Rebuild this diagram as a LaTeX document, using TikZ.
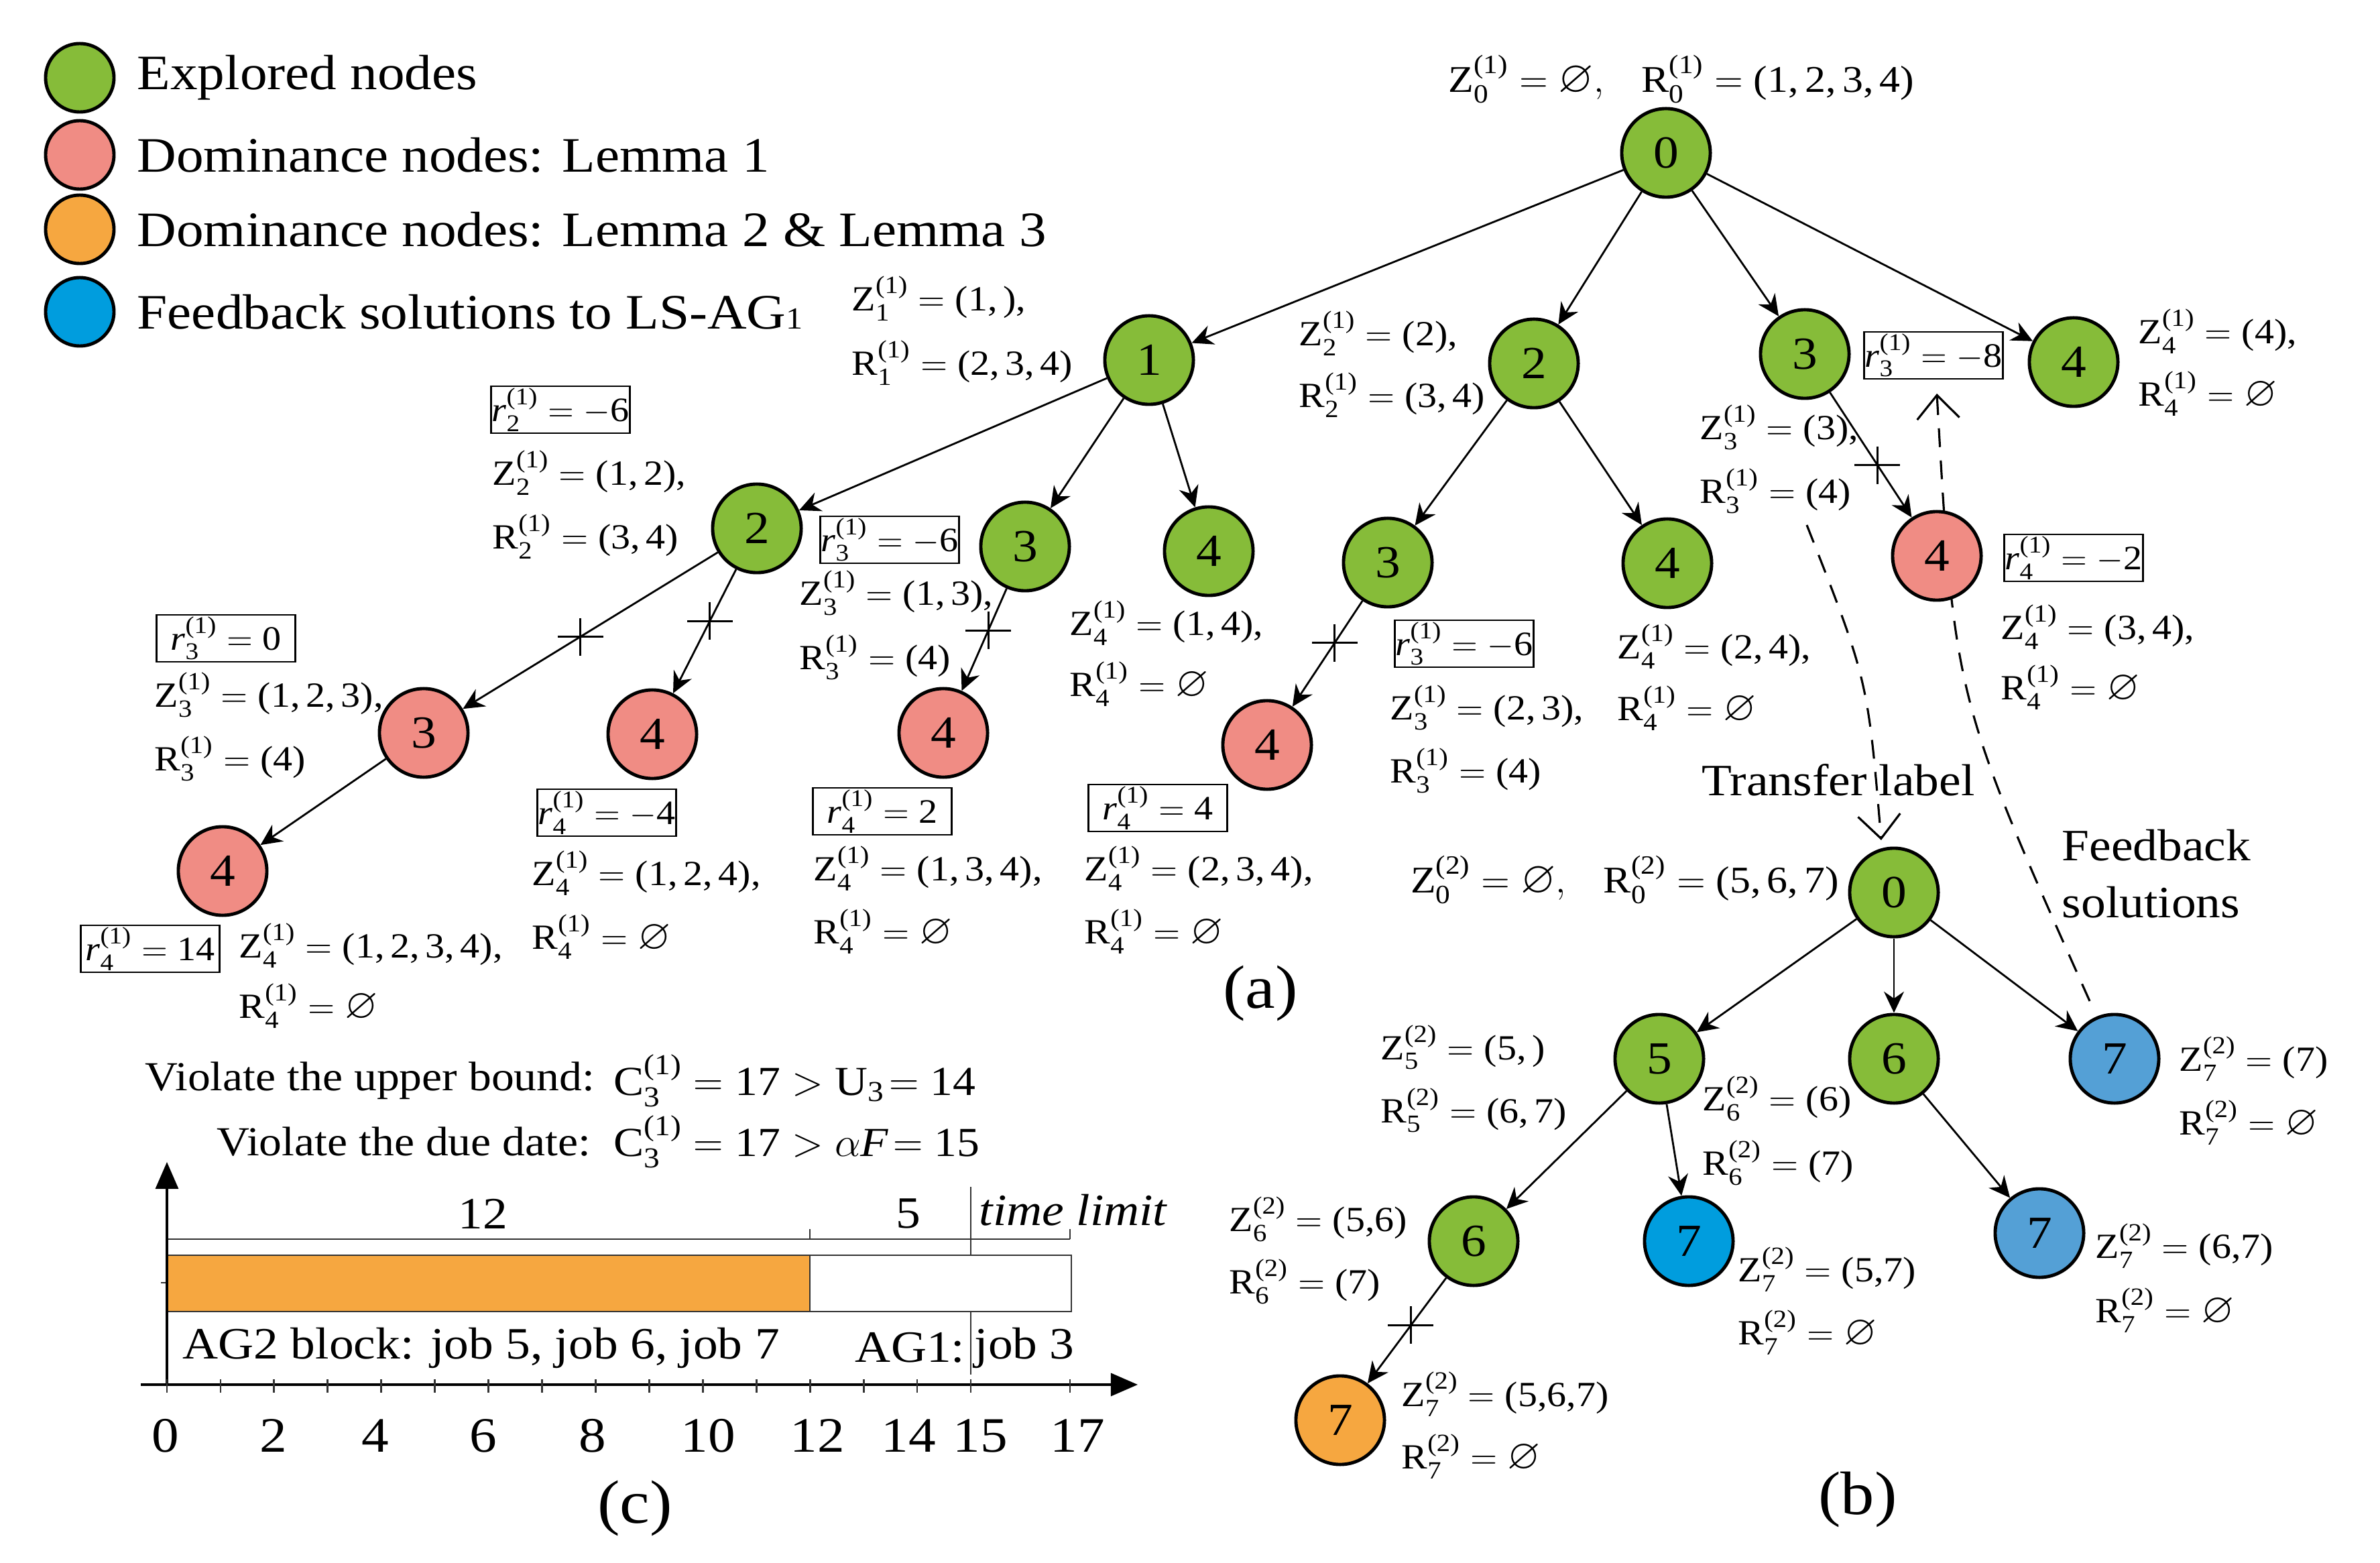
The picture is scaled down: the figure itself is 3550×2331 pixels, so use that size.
\documentclass[tikz,border=0pt]{standalone}
\usepackage{fix-cm}
\usepackage{amsmath}
\usepackage{amssymb}
\usepackage{fontspec}
\setmainfont{Liberation Serif}[FakeStretch=1.1]
\usetikzlibrary{arrows.meta,calc,backgrounds}
\definecolor{ngreen}{RGB}{134,188,57}
\definecolor{npink}{RGB}{240,140,132}
\definecolor{norange}{RGB}{246,167,64}
\definecolor{nblue}{RGB}{0,157,222}
\definecolor{nlblue}{RGB}{84,160,214}
\newcommand{\Zs}[2]{\text{Z}_{\text{#1}}^{\text{(#2)}}}
\newcommand{\Rs}[2]{\text{R}_{\text{#1}}^{\text{(#2)}}}
\newcommand{\rs}[2]{\textit{r}_{\text{#1}}^{\text{(#2)}}}
\newcommand{\tv}[1]{\text{#1}}
\newcommand{\es}{\mathord{\scalebox{1.2}{$\varnothing$}}}
\tikzset{
  tn/.style={circle, draw=black, line width=1.4pt, minimum size=1.32cm, inner sep=0pt, font=\fontsize{19.5}{20}\selectfont},
  gn/.style={tn, fill=ngreen},
  pn/.style={tn, fill=npink},
  orn/.style={tn, fill=norange},
  bn/.style={tn, fill=nblue},
  lbn/.style={tn, fill=nlblue},
  legc/.style={circle, draw=black, line width=1.4pt, minimum size=1.02cm, inner sep=0pt},
  leg/.style={anchor=west, inner sep=0pt, font=\fontsize{21}{24}\selectfont},
  lbl/.style={anchor=west, inner sep=0pt, font=\fontsize{15}{18}\selectfont},
  rbox/.style={draw, line width=0.7pt, minimum width=2.07cm, minimum height=0.70cm, inner sep=0pt, font=\fontsize{14.5}{17}\selectfont},
  arr/.style={line width=0.8pt, -{Stealth[length=9pt,width=8.5pt]}},
  crs/.style={line width=0.9pt},
  dsh/.style={line width=0.9pt, dash pattern=on 0.28cm off 0.2cm, -{Straight Barb[length=0.35cm,width=0.63cm]}},
  midt/.style={inner sep=0pt, font=\fontsize{19}{22}\selectfont},
  big/.style={inner sep=0pt, font=\fontsize{26}{30}\selectfont},
  vt/.style={inner sep=0pt, font=\fontsize{17.5}{20}\selectfont},
  gt/.style={inner sep=0pt, font=\fontsize{19}{22}\selectfont},
  tkl/.style={inner sep=0pt, font=\fontsize{21}{24}\selectfont},
  gline/.style={line width=0.8pt, draw=black!80},
  axis/.style={line width=0.9pt, -{Triangle[length=0.4cm,width=0.34cm]}},
}
\begin{document}
\begin{tikzpicture}[x=0.01cm,y=-0.01cm]
\useasboundingbox (0,0) rectangle (3550,2331);

% ---------- legend ----------
\node[legc, fill=ngreen] (L1) at (119,116) {};
\node[legc, fill=npink] (L2) at (119,231) {};
\node[legc, fill=norange] (L3) at (119,342) {};
\node[legc, fill=nblue] (L4) at (119,465) {};
\node[leg] (L1t) at (204,116) {Explored nodes};
\node[leg] (L2t) at (204,231) {Dominance nodes: Lemma 1};
\node[leg] (L3t) at (204,342) {Dominance nodes: Lemma 2 \& Lemma 3};
\node[leg] (L4t) at (204,465) {Feedback solutions to LS-AG{\fontsize{13}{14}\selectfont 1}};

% ---------- tree (a) ----------
\node[gn] (A0) at (2485,228) {0};
\node[gn] (A1) at (1714,537) {1};
\node[gn] (A2) at (2288,542) {2};
\node[gn] (A3) at (2692,528) {3};
\node[gn] (A4) at (3093,540) {4};
\node[gn] (A12) at (1129,788) {2};
\node[gn] (A13) at (1529,815) {3};
\node[gn] (A14) at (1803,822) {4};
\node[pn] (A123) at (632,1093) {3};
\node[pn] (A124) at (973,1095) {4};
\node[pn] (A1234) at (332,1299) {4};
\node[pn] (A134) at (1407,1093) {4};
\node[gn] (A23) at (2070,839) {3};
\node[gn] (A24) at (2487,840) {4};
\node[pn] (A234) at (1890,1111) {4};
\node[pn] (A34) at (2889,829) {4};

% ---------- tree (b) ----------
\node[gn] (B0) at (2825,1331) {0};
\node[gn] (B5) at (2475,1579) {5};
\node[gn] (B6) at (2825,1579) {6};
\node[lbn] (B7) at (3154,1579) {7};
\node[gn] (B56) at (2198,1851) {6};
\node[bn] (B57) at (2519,1851) {7};
\node[lbn] (B67) at (3042,1839) {7};
\node[orn] (B567) at (1999,2118) {7};

% ---------- edges ----------
\foreach \a/\b in {A0/A1,A0/A2,A0/A3,A0/A4,A1/A12,A1/A13,A1/A14,A12/A123,A12/A124,A123/A1234,A13/A134,A2/A23,A2/A24,A23/A234,A3/A34,B0/B5,B0/B6,B0/B7,B5/B56,B5/B57,B6/B67,B56/B567}
  \draw[arr] (\a) -- (\b);
\foreach \a/\b/\t in {A12/A123/0.53,A12/A124/0.45,A13/A134/0.45,A23/A234/0.44,A3/A34/0.55,B56/B567/0.47}
  \draw[crs] ($(\a)!\t!(\b)$) +(-34,0) -- +(34,0) ($(\a)!\t!(\b)$) +(0,-28) -- +(0,28);

% ---------- dashed connectors ----------
\coordinate (tl1) at (2695,783);
\coordinate (tl2) at (2806,1253);
\coordinate (fb1) at (3117,1493);
\coordinate (fb2) at (2889,587);
\begin{scope}[on background layer]
\draw[dsh] (tl1) .. controls (2786,1014) .. (tl2);
\draw[dsh] (fb1) .. controls (2915,1042) .. (fb2);
\end{scope}

% ---------- labels tree (a) ----------
\node[inner sep=0pt, font=\fontsize{16}{19}\selectfont] (A0l) at (2508,118) {$\Zs{0}{1} = \es,\ \ \ \Rs{0}{1} = \tv{(1,\,2,\,3,\,4)}$};
\node[lbl] (A1z) at (1270,445) {$\Zs{1}{1} = \tv{(1,\,),}$};
\node[lbl] (A1r) at (1270,541) {$\Rs{1}{1} = \tv{(2,\,3,\,4)}$};
\node[lbl] (A2z) at (1937,497) {$\Zs{2}{1} = \tv{(2),}$};
\node[lbl] (A2r) at (1937,589) {$\Rs{2}{1} = \tv{(3,\,4)}$};
\node[lbl] (A3z) at (2535,637) {$\Zs{3}{1} = \tv{(3),}$};
\node[lbl] (A3r) at (2535,732) {$\Rs{3}{1} = \tv{(4)}$};
\node[lbl] (A4z) at (3189,494) {$\Zs{4}{1} = \tv{(4),}$};
\node[lbl] (A4r) at (3189,587) {$\Rs{4}{1} = \es$};
\node[lbl] (A12z) at (734,705) {$\Zs{2}{1} = \tv{(1,\,2),}$};
\node[lbl] (A12r) at (734,800) {$\Rs{2}{1} = \tv{(3,\,4)}$};
\node[lbl] (A13z) at (1192,884) {$\Zs{3}{1} = \tv{(1,\,3),}$};
\node[lbl] (A13r) at (1192,980) {$\Rs{3}{1} = \tv{(4)}$};
\node[lbl] (A14z) at (1595,929) {$\Zs{4}{1} = \tv{(1,\,4),}$};
\node[lbl] (A14r) at (1595,1020) {$\Rs{4}{1} = \es$};
\node[lbl] (A123z) at (230,1036) {$\Zs{3}{1} = \tv{(1,\,2,\,3),}$};
\node[lbl] (A123r) at (230,1131) {$\Rs{3}{1} = \tv{(4)}$};
\node[lbl] (A1234z) at (356,1410) {$\Zs{4}{1} = \tv{(1,\,2,\,3,\,4),}$};
\node[lbl] (A1234r) at (356,1500) {$\Rs{4}{1} = \es$};
\node[lbl] (A124z) at (793,1302) {$\Zs{4}{1} = \tv{(1,\,2,\,4),}$};
\node[lbl] (A124r) at (793,1397) {$\Rs{4}{1} = \es$};
\node[lbl] (A134z) at (1213,1295) {$\Zs{4}{1} = \tv{(1,\,3,\,4),}$};
\node[lbl] (A134r) at (1213,1389) {$\Rs{4}{1} = \es$};
\node[lbl] (A234z) at (1617,1295) {$\Zs{4}{1} = \tv{(2,\,3,\,4),}$};
\node[lbl] (A234r) at (1617,1389) {$\Rs{4}{1} = \es$};
\node[lbl] (A23z) at (2073,1055) {$\Zs{3}{1} = \tv{(2,\,3),}$};
\node[lbl] (A23r) at (2073,1149) {$\Rs{3}{1} = \tv{(4)}$};
\node[lbl] (A24z) at (2412,964) {$\Zs{4}{1} = \tv{(2,\,4),}$};
\node[lbl] (A24r) at (2412,1056) {$\Rs{4}{1} = \es$};
\node[lbl] (A34z) at (2984,935) {$\Zs{4}{1} = \tv{(3,\,4),}$};
\node[lbl] (A34r) at (2984,1025) {$\Rs{4}{1} = \es$};

% boxed r values
\node[rbox] (A3b) at (2884,530) {$\rs{3}{1} = -\tv{8}$};
\node[rbox] (A12b) at (836,611) {$\rs{2}{1} = -\tv{6}$};
\node[rbox] (A13b) at (1327,805) {$\rs{3}{1} = -\tv{6}$};
\node[rbox] (A123b) at (337,952) {$\rs{3}{1} = \tv{0}$};
\node[rbox] (A1234b) at (224,1415) {$\rs{4}{1} = \tv{14}$};
\node[rbox] (A124b) at (905,1212) {$\rs{4}{1} = -\tv{4}$};
\node[rbox] (A134b) at (1316,1210) {$\rs{4}{1} = \tv{2}$};
\node[rbox] (A234b) at (1727,1205) {$\rs{4}{1} = \tv{4}$};
\node[rbox] (A23b) at (2184,960) {$\rs{3}{1} = -\tv{6}$};
\node[rbox] (A34b) at (3093,832) {$\rs{4}{1} = -\tv{2}$};

\node[big] (capa) at (1880,1482) {(a)};

% ---------- labels tree (b) ----------
\node[midt] (tlt) at (2742,1163) {Transfer label};
\node[midt, anchor=west] (fbt1) at (3075,1261) {Feedback};
\node[midt, anchor=west] (fbt2) at (3075,1346) {solutions};
\node[lbl, anchor=east, font=\fontsize{16}{19}\selectfont] (B0l) at (2744,1312) {$\Zs{0}{2} = \es,\ \ \ \Rs{0}{2} = \tv{(5,\,6,\,7)}$};
\node[lbl] (B5z) at (2059,1562) {$\Zs{5}{2} = \tv{(5,\,)}$};
\node[lbl] (B5r) at (2059,1656) {$\Rs{5}{2} = \tv{(6,\,7)}$};
\node[lbl] (B6z) at (2539,1638) {$\Zs{6}{2} = \tv{(6)}$};
\node[lbl] (B6r) at (2539,1734) {$\Rs{6}{2} = \tv{(7)}$};
\node[lbl] (B7z) at (3250,1579) {$\Zs{7}{2} = \tv{(7)}$};
\node[lbl] (B7r) at (3250,1674) {$\Rs{7}{2} = \es$};
\node[lbl] (B56z) at (1833,1818) {$\Zs{6}{2} = \tv{(5,6)}$};
\node[lbl] (B56r) at (1833,1911) {$\Rs{6}{2} = \tv{(7)}$};
\node[lbl] (B57z) at (2592,1893) {$\Zs{7}{2} = \tv{(5,7)}$};
\node[lbl] (B57r) at (2592,1987) {$\Rs{7}{2} = \es$};
\node[lbl] (B67z) at (3125,1858) {$\Zs{7}{2} = \tv{(6,7)}$};
\node[lbl] (B67r) at (3125,1954) {$\Rs{7}{2} = \es$};
\node[lbl] (B567z) at (2090,2079) {$\Zs{7}{2} = \tv{(5,6,7)}$};
\node[lbl] (B567r) at (2090,2172) {$\Rs{7}{2} = \es$};
\node[big] (capb) at (2771,2237) {(b)};

% ---------- part (c) ----------
\node[vt, anchor=east] (v1) at (888,1612) {Violate the upper bound:};
\node[vt, anchor=west] (v1m) at (915,1612) {$\text{C}_{\text{3}}^{\text{(1)}} = \tv{17} > \text{U}_{\text{3}}\!= \tv{14}$};
\node[vt, anchor=east] (v2) at (882,1703) {Violate the due date:};
\node[vt, anchor=west] (v2m) at (915,1703) {$\text{C}_{\text{3}}^{\text{(1)}} = \tv{17} > \alpha \textit{F}\!= \tv{15}$};

\draw[gline, fill=norange] (249,1872) rectangle (1208,1956);
\draw[gline, fill=white] (1208,1872) rectangle (1598,1956);
\draw[gline] (240,1913) -- (249,1913);
\draw[gline] (249,1848) -- (1596,1848);
\draw[gline] (1208,1833) -- (1208,1848);
\draw[gline] (1596,1833) -- (1596,1848);
\draw[gline] (1448,1770) -- (1448,1872);
\draw[gline] (1448,1956) -- (1448,2050);
\draw[axis] (249,2065) -- (249,1733);
\draw[axis] (210,2065) -- (1697,2065);
\foreach \i in {0,...,15}
  \draw[gline] (249+79.93*\i,2057) -- (249+79.93*\i,2077);
\draw[gline] (1596,2057) -- (1596,2077);
\foreach \i/\x in {0/247,2/408,4/560,6/721,8/884,10/1056,12/1219,14/1355,15/1462,17/1607}
  \node[tkl] (tk\i) at (\x,2141) {\i};

\node[gt] (g12) at (720,1810) {12};
\node[gt] (g5) at (1355,1810) {5};
\node[gt, anchor=west] (gtl) at (1460,1805) {\itshape time limit};
\node[gt, anchor=west] (gag2) at (272,2010) {AG2 block: job 5, job 6, job 7};
\node[gt, anchor=east] (gag1) at (1440,2010) {AG1:};
\node[gt, anchor=west] (gj3) at (1453,2010) {job 3};
\node[big] (capc) at (947,2250) {(c)};
\end{tikzpicture}
\end{document}
